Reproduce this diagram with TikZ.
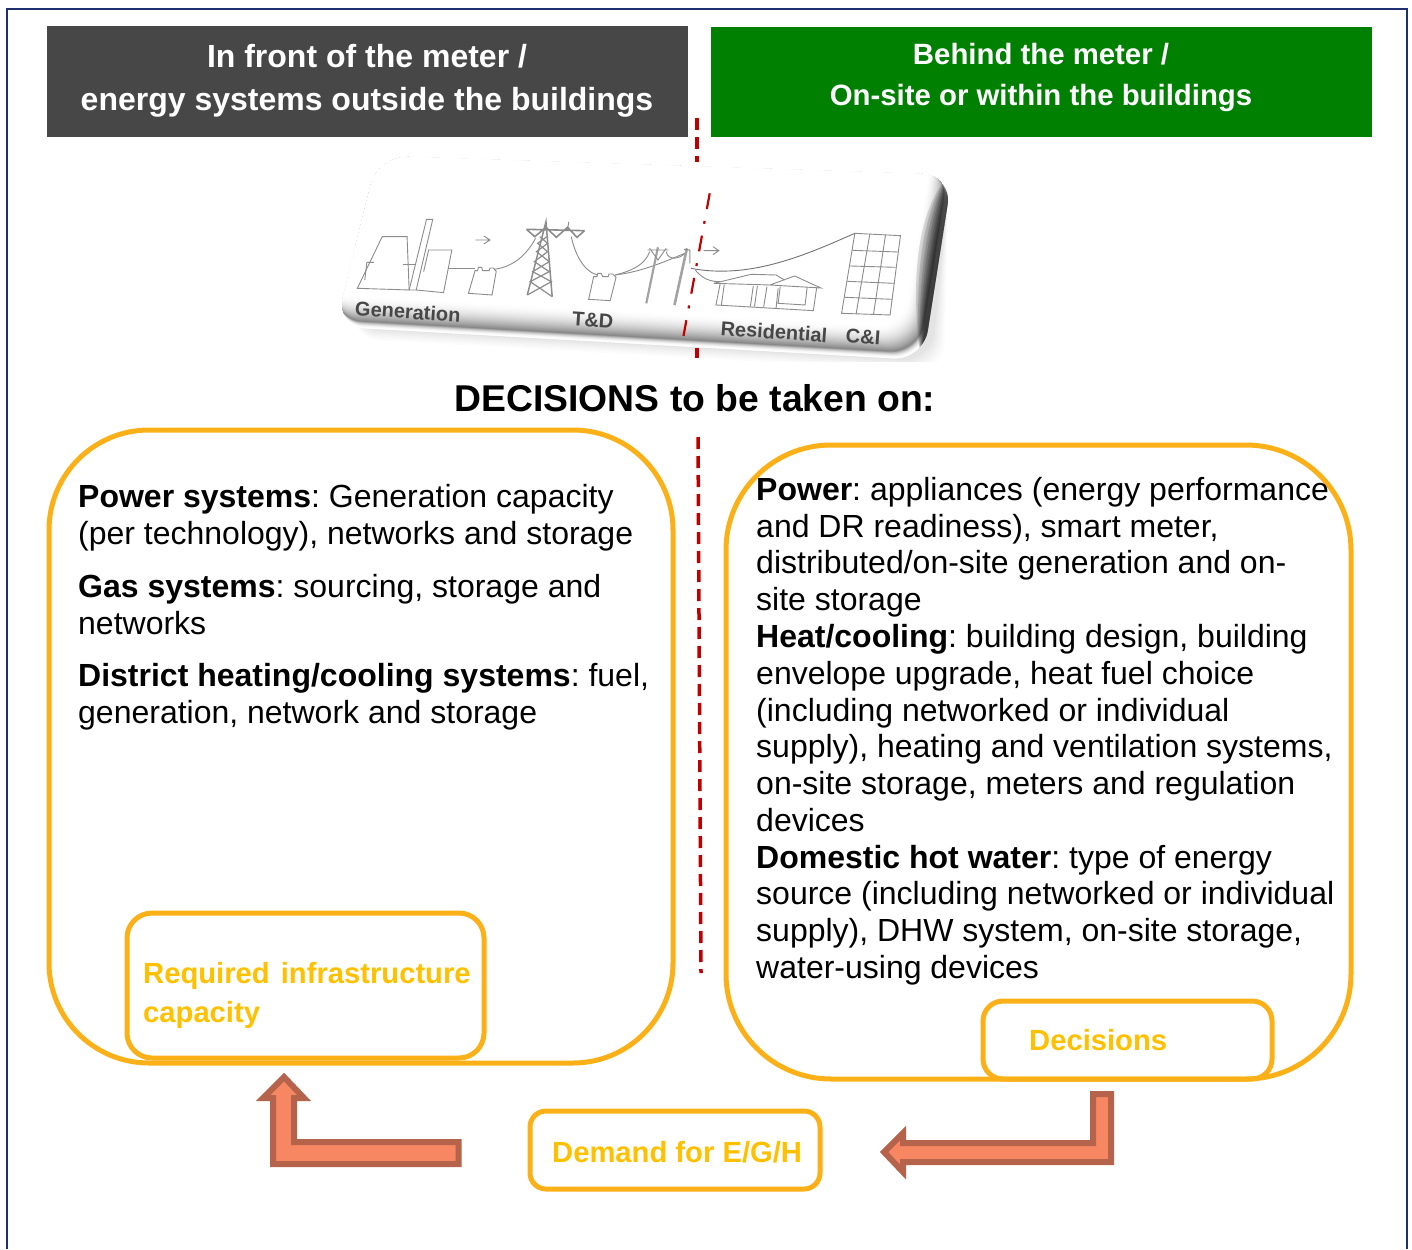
\documentclass[tikz,border=0pt]{standalone}
\usepackage{fontspec}
\setmainfont{Liberation Sans}
\definecolor{navy}{HTML}{1F2F6F}
\definecolor{hdgray}{HTML}{474748}
\definecolor{hdgreen}{HTML}{008000}
\definecolor{ring}{HTML}{FBB017}
\definecolor{gold}{HTML}{FFC000}
\definecolor{cutred}{HTML}{C00000}
\definecolor{arrowfill}{HTML}{F78762}
\definecolor{arrowline}{HTML}{B5634A}
\definecolor{icon}{HTML}{8C8C8C}
\newcommand{\fs}[2]{\fontsize{#1}{#2}\selectfont}
\newcommand{\lead}[1]{\textbf{#1}:\ }
\tikzset{
  header/.style={inner sep=0pt,text=white,font=\fs{32}{43}\bfseries,align=center},
  ringbox/.style={draw=ring,line width=5pt,fill=none},
  goldtext/.style={inner sep=0pt,text=gold,font=\fs{29.2}{39}\bfseries,align=left},
  body/.style={inner sep=0pt,text=black,font=\fs{32}{36.77},align=left,anchor=north west},
  cutline/.style={draw=cutred,line width=3.5pt,dash pattern=on 12pt off 7pt},
  bigarrow/.style={draw=arrowline,fill=arrowfill,line width=6pt,miter limit=10},
  iconline/.style={draw=icon,line width=.9pt},
  panellabel/.style={inner sep=0pt,text=black!72,font=\fs{20}{21}\bfseries,rotate=-4},
}
\begin{document}
\begin{tikzpicture}[x=1pt,y=-1pt]
\useasboundingbox (0,0) rectangle (1412,1249);
\draw[navy,line width=1.6pt] (7,1249) -- (7,9) -- (1407,9) -- (1407,1249);
% headers
\fill[hdgray] (47,26) rectangle (688,137);
\fill[hdgreen] (711,27) rectangle (1372,137);
\node[header] (hl) at (367,81) {In front of the meter /\\energy systems outside the buildings};
\node[header,font=\fs{29.35}{41}\bfseries] (hr) at (1041,77) {Behind the meter /\\On-site or within the buildings};
% vertical cut line
\draw[cutline] (697,118) -- (697,162);
\draw[cutline] (698,437) -- (701,973);
% panel (coordinates of the zoomed crop)
\begin{scope}[shift={(320,140)},x=0.4146pt,y=-0.3333pt]
  \begin{scope}
    \clip (0,0) rectangle (1600,665);
    \foreach \o/\s in {.012/36,.014/30,.016/24,.018/18,.02/12,.022/6}{
      \fill[black,opacity=\o,rounded corners=30pt] (160,90) -- (1515,150) -- ({1470+\s},{660+\s}) -- (70,{560+\s}) -- cycle;
    }
  \end{scope}
  \fill[white,rounded corners=30pt] (140,48) -- (1525,105) -- (1455,660) -- (38,560) -- cycle;
  \begin{scope}
    \clip[rounded corners=30pt] (140,48) -- (1525,105) -- (1455,660) -- (38,560) -- cycle;
    \foreach \i in {0,...,60}{
      \pgfmathsetmacro{\g}{\i<12 ? 100-(\i/12)*(\i/12)*47 : 100-47*(1-(\i-12)/48)*(1-(\i-12)/48)}
      \definecolor{lay}{gray}{\fpeval{\g/100}}
      \fill[lay,rounded corners=30pt,shift={({-\i*0.8},{-\i*1.7})}] (140,48) -- (1525,105) -- (1455,660) -- (38,560) -- cycle;
    }
    \foreach \w in {70,60,50,42,34,27,20,14,8,3}{
      \fill[black,opacity=.13] (1525,100) .. controls ({1520-\w},180) and ({1490-\w},380) .. (1448,650) -- (1550,650) -- (1550,100) -- cycle;
    }
  \end{scope}
  % generation
  \draw[iconline] (90,445) -- (150,290) -- (210,290) -- (215,450) -- cycle;
  \draw[iconline] (108,420) -- (113,367) -- (130,367);
  \draw[iconline] (200,372) -- (232,372);
  \draw[iconline] (215,450) -- (257,238) -- (272,238) -- (232,450) -- cycle;
  \draw[iconline] (250,395) -- (262,330) -- (318,330) -- (298,458) -- (232,450);
  \draw[iconline] (308,385) -- (375,385);
  \draw[iconline] (375,300) -- (410,300) (395,288) -- (410,300) -- (395,312);
  % transformer 1
  \draw[iconline] (358,460) -- (374,392) -- (380,392) -- (382,382) -- (390,382) -- (392,392) -- (408,392) -- (410,384) -- (418,384) -- (425,394) -- (415,465) -- cycle;
  \draw[iconline] (420,388) .. controls (470,380) and (500,340) .. (520,295);
  % tower
  \draw[icon,line width=1.5pt] (500,465) -- (545,245) -- (560,470);
  \draw[icon,line width=1.2pt] (500,465) -- (558,425) -- (513,395) -- (553,365) -- (522,335) -- (549,310) -- (530,290)
     (560,470) -- (507,425) -- (553,395) -- (517,365) -- (549,335) -- (525,310) -- (547,290);
  \draw[icon,line width=1.6pt] (498,268) -- (638,272) (498,268) -- (518,290) -- (545,262) -- (570,292) -- (597,262) -- (620,292) -- (638,272);
  \draw[iconline] (600,245) -- (597,270);
  % transformer 2
  \draw[iconline] (606,290) .. controls (620,370) and (650,400) .. (668,404);
  \draw[iconline] (648,478) -- (660,410) -- (668,410) -- (670,400) -- (678,400) -- (682,410) -- (695,410) -- (697,402) -- (706,402) -- (714,412) -- (700,482) -- cycle;
  \draw[iconline] (712,405) .. controls (760,390) and (785,370) .. (795,335);
  \draw[iconline] (712,405) .. controls (780,395) and (840,360) .. (880,340);
  \draw[iconline] (835,335) .. controls (840,365) and (870,355) .. (880,340);
  % poles
  \draw[draw=icon!80,line width=2.2pt] (787,490) -- (815,322);
  \draw[draw=icon!80,line width=2.6pt] (855,495) -- (885,325);
  \draw[iconline] (790,330) -- (840,330) (795,325) -- (815,360) -- (835,325);
  \draw[iconline] (878,328) -- (892,330) -- (892,370);
  % wires
  \draw[draw=black!55,line width=.9pt] (895,385) .. controls (1040,420) and (1180,340) .. (1290,280);
  \draw[iconline] (905,390) .. controls (925,420) and (945,425) .. (965,425);
  \draw[iconline] (925,332) -- (962,332) (948,320) -- (962,332) -- (948,344);
  % houses
  \draw[iconline] (950,430) -- (1040,403) -- (1100,405) -- (1120,420);
  \draw[iconline] (950,430) -- (1085,435) -- (1145,408) -- (1208,444) -- (1085,435);
  \draw[iconline] (965,432) -- (955,495) -- (1190,512) -- (1198,442);
  \draw[iconline] (975,434) -- (968,496) (1045,438) -- (1038,500) (1055,438) -- (1048,500) (1078,440) -- (1070,502) (1105,445) -- (1100,505) (1110,440) -- (1105,490) -- (1170,495) -- (1175,442);
  % C&I grid
  \draw[iconline] (1290,280) -- (1400,287) -- (1375,525) -- (1258,520) -- cycle;
  \draw[iconline] (1326,283) -- (1293,522) (1364,285) -- (1335,523);
  \draw[iconline] (1284,331) -- (1393,336) (1278,378) -- (1388,382) (1272,424) -- (1384,430) (1266,472) -- (1380,478);
  % labels
  \node[panellabel] (lgen) at (212,515) {Generation};
  \node[panellabel] (ltd) at (658,540) {T\&D};
  \node[panellabel] (lres) at (1095,575) {Residential};
  \node[panellabel] (lci) at (1310,590) {C\&I};
  % inner tilted dashed line
  \draw[draw=red!75!black,line width=2.2pt,dash pattern=on 16pt off 12pt on 3pt off 12pt] (940,160) -- (872,620);
\end{scope}
\draw[cutline] (697,348) -- (697,358);
% title
\node[inner sep=0pt,font=\fs{37.3}{37}\bfseries] (title) at (695,398) {DECISIONS to be taken on:};
% big boxes
\draw[ringbox,rounded corners=100pt] (49,430) rectangle (673,1063);
\draw[ringbox,rounded corners=105pt] (726,445) rectangle (1351,1079);
\draw[ringbox,rounded corners=25pt] (127,913) rectangle (484,1058);
\draw[ringbox,rounded corners=20pt] (983,1001) rectangle (1272,1079);
\draw[ringbox,rounded corners=16pt] (530,1111) rectangle (820,1189);
% left text
\node[body] (ltext1) at (78,484) {\lead{Power systems}Generation capacity\\(per technology), networks and storage};
\node[body] (ltext2) at (78,574) {\lead{Gas systems}sourcing, storage and\\networks};
\node[body] (ltext3) at (78,663) {\lead{District heating/cooling systems}fuel,\\generation, network and storage};
% right text
\node[body] (rtext) at (756,477) {\lead{Power}appliances (energy performance\\
and DR readiness), smart meter,\\
distributed/on-site generation and on-\\
site storage\\
\lead{Heat/cooling}building design, building\\
envelope upgrade, heat fuel choice\\
(including networked or individual\\
supply), heating and ventilation systems,\\
on-site storage, meters and regulation\\
devices\\
\lead{Domestic hot water}type of energy\\
source (including networked or individual\\
supply), DHW system, on-site storage,\\
water-using devices};
% gold labels
\node[goldtext,anchor=west] (req) at (143,995) {Required\hspace{3pt} infrastructure\\capacity};
\node[goldtext,anchor=west] (dec) at (1029,1040) {Decisions};
\node[goldtext,anchor=west] (dem) at (552,1152) {Demand for E/G/H};
% arrows
\draw[bigarrow] (284,1077) -- (304,1098) -- (294,1098) -- (294,1142) -- (458.5,1142) -- (458.5,1164) -- (273,1164) -- (273,1098) -- (263,1098) -- cycle;
\draw[bigarrow] (884,1152) -- (903,1133) -- (903,1143) -- (1093,1143) -- (1093,1094) -- (1111,1094) -- (1111,1162) -- (903,1162) -- (903,1172) -- cycle;
\end{tikzpicture}
\end{document}
